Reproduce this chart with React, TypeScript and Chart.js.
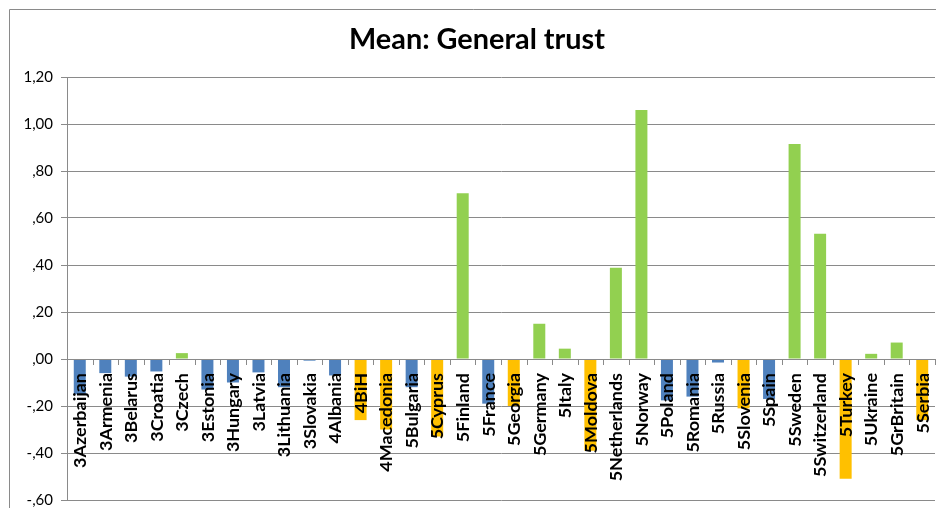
import React, { useEffect, useRef } from "react";
import { Chart, registerables } from "chart.js";

Chart.register(...registerables);

const TITLE = "Mean: General trust";

const categories = [
  "3Azerbaijan", "3Armenia", "3Belarus", "3Croatia", "3Czech", "3Estonia",
  "3Hungary", "3Latvia", "3Lithuania", "3Slovakia", "4Albania", "4BiH",
  "4Macedonia", "5Bulgaria", "5Cyprus", "5Finland", "5France", "5Georgia",
  "5Germany", "5Italy", "5Moldova", "5Netherlands", "5Norway", "5Poland",
  "5Romania", "5Russia", "5Slovenia", "5Spain", "5Sweden", "5Switzerland",
  "5Turkey", "5Ukraine", "5GrBritain", "5Serbia",
];

const values = [
  -0.15, -0.06, -0.075, -0.053, 0.025, -0.13,
  -0.10, -0.057, -0.12, -0.007, -0.07, -0.26,
  -0.30, -0.12, -0.33, 0.705, -0.19, -0.20,
  0.15, 0.044, -0.39, 0.388, 1.06, -0.176,
  -0.16, -0.015, -0.21, -0.17, 0.915, 0.533,
  -0.51, 0.022, 0.07, -0.26,
];

// b = blue, o = orange, g = green
const groups = [
  "b", "b", "b", "b", "g", "b",
  "b", "b", "b", "b", "b", "o",
  "o", "b", "o", "g", "b", "o",
  "g", "g", "o", "g", "g", "b",
  "b", "b", "o", "b", "g", "g",
  "o", "g", "g", "o",
];

const palette: Record<string, string> = {
  b: "#4F81BD",
  o: "#FFC000",
  g: "#92D050",
};

const Y_MIN = -0.6;
const Y_MAX = 1.2;
const Y_STEP = 0.2;

const GRID = "#8a8a8a";
const FONT = "Lato";

function formatTick(v: number): string {
  const s = Math.abs(v).toFixed(2).replace(".", ",");
  const t = s.startsWith("0") ? s.slice(1) : s;
  return (v < -1e-9 ? "-" : "") + t;
}

const decorPlugin = {
  id: "decor",
  beforeDraw(chart: any) {
    const ctx = chart.ctx;
    ctx.save();
    ctx.fillStyle = "#ffffff";
    ctx.fillRect(0, 0, chart.width, chart.height);
    // outer frame
    ctx.strokeStyle = GRID;
    ctx.lineWidth = 1;
    ctx.beginPath();
    ctx.moveTo(9.5, chart.height + 2);
    ctx.lineTo(9.5, 9.5);
    ctx.lineTo(chart.width + 2, 9.5);
    ctx.stroke();
    // title
    ctx.fillStyle = "#000000";
    ctx.font = `bold 22px ${FONT}`;
    const w = ctx.measureText(TITLE).width;
    const size = (22 * 256) / w;
    ctx.font = `bold ${size.toFixed(2)}px ${FONT}`;
    ctx.textAlign = "center";
    ctx.textBaseline = "middle";
    ctx.fillText(TITLE, 477, 40);
    ctx.restore();
  },
  afterDatasetsDraw(chart: any) {
    const ctx = chart.ctx;
    const xs = chart.scales.x;
    const ys = chart.scales.y;
    const y0 = ys.getPixelForValue(0);
    const area = chart.chartArea;
    const n = categories.length;
    const cw = (area.right - area.left) / n;
    ctx.save();
    // zero axis line with tick marks
    ctx.strokeStyle = GRID;
    ctx.lineWidth = 1;
    ctx.beginPath();
    ctx.moveTo(area.left, Math.round(y0) + 0.5);
    ctx.lineTo(area.right, Math.round(y0) + 0.5);
    for (let i = 0; i <= n; i++) {
      const x = Math.round(area.left + i * cw) + 0.5;
      ctx.moveTo(x, Math.round(y0));
      ctx.lineTo(x, Math.round(y0) + 6);
    }
    ctx.stroke();
    // category labels
    ctx.font = `bold 15px ${FONT}`;
    const ref = ctx.measureText("3Azerbaijan").width;
    const fs = (15 * 95) / ref;
    ctx.font = `bold ${fs.toFixed(2)}px ${FONT}`;
    ctx.fillStyle = "#000000";
    ctx.textAlign = "right";
    ctx.textBaseline = "middle";
    categories.forEach((c, i) => {
      const x = xs.getPixelForValue(i);
      ctx.save();
      ctx.translate(x + 0.5, y0 + 14);
      ctx.rotate(-Math.PI / 2);
      ctx.fillText(c, 0, 0);
      ctx.restore();
    });
    ctx.restore();
  },
};

export default function App() {
  const ref = useRef<HTMLCanvasElement | null>(null);

  useEffect(() => {
    if (!ref.current) return;
    const chart = new Chart(ref.current, {
      type: "bar",
      data: {
        labels: categories,
        datasets: [
          {
            data: values,
            backgroundColor: groups.map((g) => palette[g]),
            borderWidth: 0,
            categoryPercentage: 1,
            barPercentage: 0.47,
          },
        ],
      },
      options: {
        responsive: false,
        animation: false,
        devicePixelRatio: 1,
        layout: { padding: { left: 0, right: 1, top: 77, bottom: 8 } },
        plugins: {
          legend: { display: false },
          title: { display: false },
          tooltip: { enabled: false },
        },
        scales: {
          x: {
            display: false,
          },
          y: {
            min: Y_MIN,
            max: Y_MAX,
            grid: {
              color: GRID,
              lineWidth: 1,
              drawTicks: true,
              tickLength: 6,
            },
            border: { display: true, color: GRID, width: 1 },
            ticks: {
              stepSize: Y_STEP,
              padding: 8,
              color: "#000000",
              font: { family: FONT, size: 15, lineHeight: 1 },
              callback: (v: any) => formatTick(Number(v)),
            },
            afterFit: (s: any) => {
              s.width = 67;
              s.paddingTop = 0;
              s.paddingBottom = 0;
            },
          },
        },
      },
      plugins: [decorPlugin],
    });
    return () => chart.destroy();
  }, []);

  return (
    <div style={{ position: "absolute", left: 0, top: 0, width: 936, height: 508, background: "#fff" }}>
      <canvas ref={ref} width={936} height={508} style={{ width: 936, height: 508, display: "block" }} />
    </div>
  );
}
